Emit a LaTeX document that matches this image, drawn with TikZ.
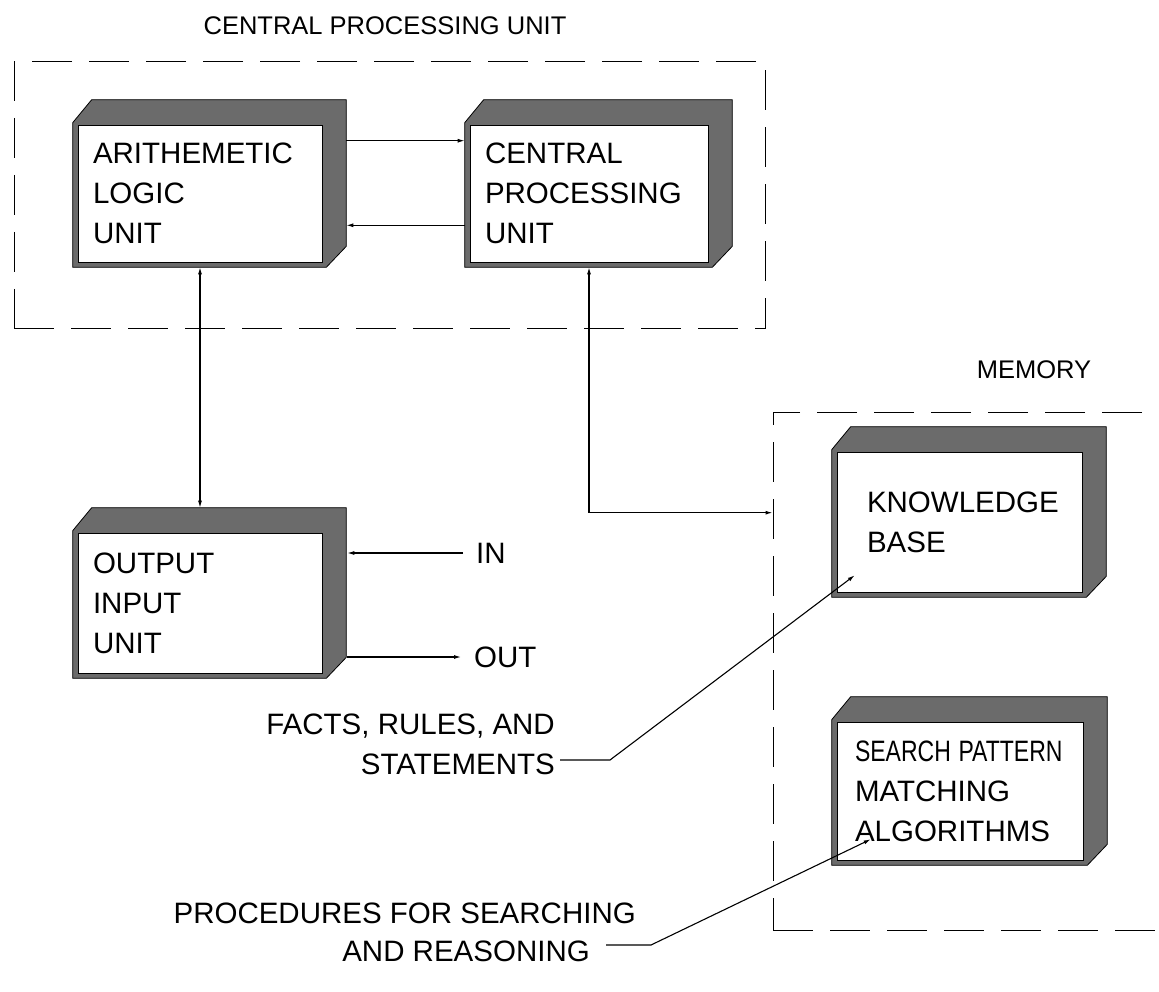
\documentclass[tikz,border=0pt]{standalone}
\usepackage{fontspec}
\usepackage{graphicx}
\setmainfont{Liberation Sans}
\usetikzlibrary{arrows.meta,calc,backgrounds}

\begin{document}
\begin{tikzpicture}[x=1pt,y=-1pt,
    every node/.style={font=\fontsize{29.5}{40}\selectfont},
    unit/.style={fill=white, draw=black, line width=0.6pt, inner ysep=0pt, inner xsep=15pt, align=left},
    prism/.style={fill=black!58, draw=black, line width=0.8pt},
    frame/.style={draw, line width=1pt, dash pattern=on 40pt off 17pt, inner sep=0pt},
    note/.style={inner sep=2pt},
    head/.style={inner sep=2pt, font=\fontsize{25.5}{30}\selectfont},
    flow/.style={line width=1.1pt, -{Latex[length=7pt,width=4pt]}},
    biflow/.style={line width=1.1pt, {Latex[length=7pt,width=4pt]}-{Latex[length=7pt,width=4pt]}}]
    \useasboundingbox (0,0) rectangle (1159,992);

    % Rahmen
    \node[frame, minimum width=410pt, minimum height=518pt] (mem) at (978,671) {};
    \node[frame, minimum width=751pt, minimum height=266pt] (cpuframe) at (389.5,195) {};
    \node[head] (cputitle) at (385,26) {CENTRAL PROCESSING UNIT};
    \node[head] (memtitle) at (1034,370) {MEMORY};

    % Einheiten
    \node[unit, text width=214pt, minimum height=137pt] (alu) at (200,193.5) {ARITHEMETIC\\LOGIC\\UNIT};
    \node[unit, text width=208pt, minimum height=137pt] (cpu) at (589,193.5) {CENTRAL\\PROCESSING\\UNIT};
    \node[unit, text width=214pt, minimum height=140pt] (oiu) at (200,603) {OUTPUT\\INPUT\\UNIT};
    \node[unit, text width=185pt, inner xsep=30pt, minimum height=140pt] (kb) at (959.5,522) {KNOWLEDGE\\BASE};
    \node[unit, text width=210pt, inner xsep=18pt, minimum height=138pt] (sp) at (960,791) {\scalebox{0.78}[1]{SEARCH PATTERN}\\MATCHING\\ALGORITHMS};

    \begin{scope}[on background layer]
        \foreach \n in {alu,cpu,oiu,kb,sp}
            \filldraw[prism] ($(\n.south west)+(-5,5)$) -- ($(\n.north west)+(-5,-2)$)
                -- ($(\n.north west)+(14,-25)$) -- ($(\n.north east)+(24,-25)$)
                -- ($(\n.south east)+(24,-16)$) -- ($(\n.south east)+(4,5)$) -- cycle;
    \end{scope}

    % Verbindungen
    \draw[flow] ($(alu.north east)+(24,16)$) -- ($(cpu.north west)+(-5,16)$);
    \draw[flow] ($(cpu.south west)+(-5,-37)$) -- ($(alu.south east)+(24,-37)$);
    \draw[biflow] ($(alu.south)+(0,5)$) -- ($(oiu.north)+(0,-25)$);
    \coordinate (kbin) at ($(kb.north west)+(0,61)$);
    \draw[biflow] ($(cpu.south)+(0,5)$) |- (mem.west |- kbin);

    % Ein- und Ausgabe
    \node[note, anchor=west] (in) at (474,553) {IN};
    \node[note, anchor=west] (out) at (472,657) {OUT};
    \draw[flow] ($(in.west)+(-11,0)$) -- ($(oiu.east |- in)+(25,0)$);
    \draw[flow] ($(oiu.east |- out)+(25,0)$) -- ($(out.west)+(-11,0)$);

    % Hinweise
    \node[note, align=right, anchor=east] (facts) at (557,744) {FACTS, RULES, AND\\STATEMENTS};
    \draw[flow] ($(facts.east)+(3,16)$) -- ++(50,0) -- ($(kb.south west)+(18,-17)$);
    \node[note, anchor=east] (proc) at (638,913) {PROCEDURES FOR SEARCHING};
    \node[note, anchor=east] (procb) at (592,951) {AND REASONING};
    \draw[flow] ($(procb.east)+(14,-6)$) -- ++(45,0) -- ($(sp.south west)+(34,-21)$);
\end{tikzpicture}
\end{document}
